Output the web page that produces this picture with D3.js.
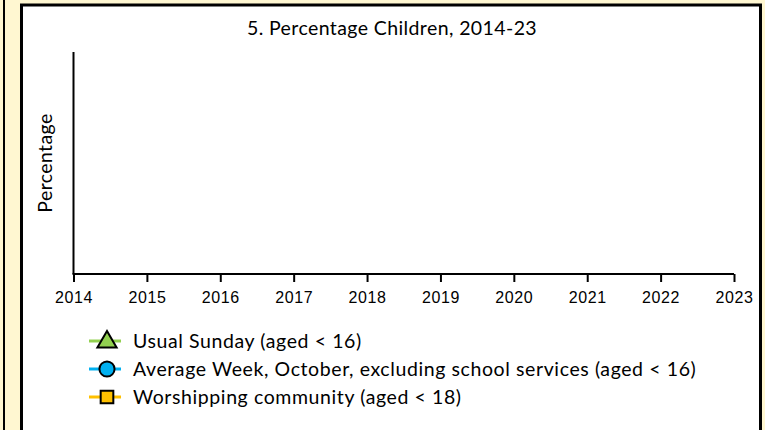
<!DOCTYPE html>
<html lang="en">
<head>
    <meta charset="UTF-8">
    <title>Percentage Children, 2014-23</title>
    <script src="https://cdn.jsdelivr.net/npm/d3@7"></script>
    <style>
        body {
            margin: 0;
            background-color: #fff7d1;
        }
        svg {
            display: block;
            font-family: "Gill Sans", Lato, "Open Sans", sans-serif;
        }
        .tick text {
            font-size: 16px;
            letter-spacing: 0.6px;
        }
    </style>
</head>
<body>
    <script>
        // chart data
        const years = [2014, 2015, 2016, 2017, 2018, 2019, 2020, 2021, 2022, 2023];
        const seriesNames = [
            'Usual Sunday (aged < 16)',
            'Average Week, October, excluding school services (aged < 16)',
            'Worshipping community (aged < 18)'
        ];
        const seriesColors = ['#92d050', '#00b0f0', '#ffc000'];
        const seriesShapes = ['triangle', 'circle', 'square'];
        // no values are plotted in the reference
        const usualSunday = [];
        const averageWeek = [];
        const worshipping = [];

        const w = 765;
        const h = 430;

        const svg = d3.select('body')
            .append('svg')
            .attr('width', w)
            .attr('height', h);

        // neighbouring panel edge
        svg.append('line')
            .attr('x1', 4).attr('x2', 4)
            .attr('y1', 0).attr('y2', h)
            .attr('stroke', '#000')
            .attr('stroke-width', 2);

        // panel
        svg.append('rect')
            .attr('x', 21.5)
            .attr('y', 5)
            .attr('width', 739)
            .attr('height', h + 10)
            .attr('fill', '#fff')
            .attr('stroke', '#000')
            .attr('stroke-width', 3);

        const margin = {left: 73.5, right: 734, top: 52, bottom: 274};

        const xScale = d3.scaleLinear()
            .domain([years[0], years[years.length - 1]])
            .range([margin.left, margin.right]);

        const yScale = d3.scaleLinear()
            .domain([0, 100])
            .range([margin.bottom, margin.top]);

        svg.append('text')
            .attr('x', 392)
            .attr('y', 35)
            .attr('text-anchor', 'middle')
            .attr('font-size', 19.5)
            .attr('letter-spacing', 0.4)
            .text('5. Percentage Children, 2014-23');

        const xAxis = d3.axisBottom(xScale)
            .tickValues(years)
            .tickFormat(d3.format('d'))
            .tickSize(8)
            .tickPadding(10);

        const gx = svg.append('g')
            .attr('transform', `translate(0, ${margin.bottom})`)
            .call(xAxis);
        gx.select('.domain').attr('stroke-width', 2).attr('d', `M${margin.left - 1},0H${margin.right}`);
        gx.selectAll('.tick line').attr('stroke-width', 2);
        gx.selectAll('.tick text').attr('fill', '#000');

        svg.append('line')
            .attr('x1', margin.left).attr('x2', margin.left)
            .attr('y1', yScale(100)).attr('y2', yScale(0))
            .attr('stroke', '#000')
            .attr('stroke-width', 2);

        svg.append('text')
            .attr('transform', `translate(52, 163) rotate(-90)`)
            .attr('text-anchor', 'middle')
            .attr('font-size', 19.5)
            .attr('letter-spacing', 0.4)
            .text('Percentage');

        // series lines (empty)
        const line = d3.line()
            .defined(d => d != null)
            .x((d, i) => xScale(years[i]))
            .y(d => yScale(d));
        [usualSunday, averageWeek, worshipping].forEach((vals, i) => {
            svg.append('path')
                .datum(vals)
                .attr('fill', 'none')
                .attr('stroke', seriesColors[i])
                .attr('stroke-width', 3)
                .attr('d', line);
        });

        // legend
        const symbolType = {triangle: d3.symbolTriangle, circle: d3.symbolCircle, square: d3.symbolSquare};
        const legend = svg.selectAll('.legend')
            .data(seriesNames)
            .enter()
            .append('g')
            .attr('class', 'legend')
            .attr('transform', (d, i) => `translate(0, ${341 + i * 28})`);

        legend.append('line')
            .attr('x1', 89).attr('x2', 121)
            .attr('stroke', (d, i) => seriesColors[i])
            .attr('stroke-width', 3);

        legend.append('path')
            .attr('transform', (d, i) => `translate(107, ${seriesShapes[i] === 'triangle' ? 1 : 0})`)
            .attr('d', (d, i) => d3.symbol().type(symbolType[seriesShapes[i]]).size(seriesShapes[i] === 'circle' ? 180 : 160)())
            .attr('fill', (d, i) => seriesColors[i])
            .attr('stroke', '#000')
            .attr('stroke-width', 2);

        legend.append('text')
            .attr('x', 133)
            .attr('y', 7)
            .attr('font-size', 19.5)
            .attr('letter-spacing', 0.6)
            .text(d => d);
    </script>
</body>
</html>
